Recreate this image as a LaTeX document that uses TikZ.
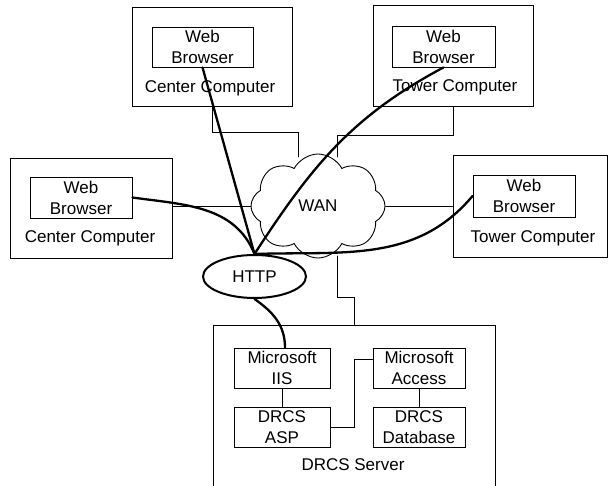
\documentclass[tikz,border=0pt]{standalone}
\usepackage{fontspec}
\setmainfont{Liberation Sans}
\usetikzlibrary{shapes.geometric,shapes.symbols}

\begin{document}
\begin{tikzpicture}[x=1pt, y=-1pt, line cap=round,
  every node/.style={font=\fontsize{17}{21}\selectfont, inner sep=0pt},
  pcbox/.style={draw, line width=0.9pt},
  webbox/.style={draw, line width=0.9pt, align=center},
  thinlink/.style={line width=0.8pt},
  httplink/.style={line width=2.3pt}]
\useasboundingbox (0,0) rectangle (608,486);

% client computers
\node [pcbox, minimum width=160pt, minimum height=99pt] (ctop) at (212,56.5) {};
\node [webbox, minimum width=101pt, minimum height=40pt] (ctopweb) at (202.5,47) {Web\\Browser};
\node (ctoptext) at (210,88) {Center Computer};

\node [pcbox, minimum width=160pt, minimum height=101pt] (ttop) at (453,55.5) {};
\node [webbox, minimum width=103pt, minimum height=41pt] (ttopweb) at (443.5,46.5) {Web\\Browser};
\node (ttoptext) at (455,87) {Tower Computer};

\node [pcbox, minimum width=162pt, minimum height=100pt] (cleft) at (91,208) {};
\node [webbox, minimum width=102pt, minimum height=41pt] (cleftweb) at (81,197.5) {Web\\Browser};
\node (clefttext) at (90,238) {Center Computer};

\node [pcbox, minimum width=154pt, minimum height=102pt] (tright) at (530,206) {};
\node [webbox, minimum width=102pt, minimum height=42pt] (trightweb) at (524,196) {Web\\Browser};
\node (trighttext) at (533,238) {Tower Computer};

% network
\node [cloud, draw, line width=0.9pt, cloud puffs=8, cloud puff arc=125, aspect=1.25,
       minimum width=134pt, minimum height=104pt] (wan) at (318,206) {WAN};
\coordinate (wanta) at (298,157);
\coordinate (wantb) at (337,157);
\coordinate (wanbot) at (337,256);
\node [draw, ellipse, line width=2pt, minimum width=103pt, minimum height=43pt] (http) at (254.5,276.5) {HTTP};

% server
\node [pcbox, minimum width=282pt, minimum height=166pt] (server) at (354,408) {};
\node [webbox, minimum width=96pt, minimum height=40pt] (iis) at (282,368) {Microsoft\\IIS};
\node [webbox, minimum width=96pt, minimum height=40pt] (asp) at (282,427) {DRCS\\ASP};
\node [webbox, minimum width=92pt, minimum height=40pt] (access) at (419,368) {Microsoft\\Access};
\node [webbox, minimum width=92pt, minimum height=40pt] (dbase) at (419,427) {DRCS\\Database};
\node (servertext) at (353,465) {DRCS Server};

% physical links
\draw [thinlink] (ctop.south) -- ++(0,26) -| (wanta);
\draw [thinlink] (ttop.south) -- ++(0,29) -| (wantb);
\draw [thinlink] (wan.west) -- (wan.west -| cleft.east);
\draw [thinlink] (wan.east) -- (wan.east -| tright.west);
\draw [thinlink] (wanbot) -- ++(0,41) -| (server.north);
\draw [thinlink] (iis) -- (asp);
\draw [thinlink] (access) -- (dbase);
\draw [thinlink] (asp.east) -- ++(24,0) |- ([yshift=9pt]access.west);

% http sessions
\draw [httplink] (http.north) -- (ctopweb.south);
\draw [httplink] (http.north) to [out=57, in=208] (ttopweb.south);
\draw [httplink] (cleftweb.east) to [out=-8, in=112] (http.north);
\draw [httplink] (http.north) to [out=2, in=230] (trightweb.west);
\draw [httplink] (http.south) to [out=-35, in=90] ([xshift=3pt]iis.north);
\end{tikzpicture}
\end{document}
